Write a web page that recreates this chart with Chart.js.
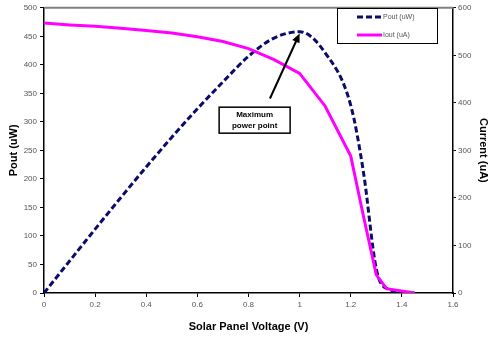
<!DOCTYPE html>
<html>
<head>
<meta charset="utf-8">
<script src="https://cdn.jsdelivr.net/npm/chart.js@4/dist/chart.umd.min.js"></script>
<style>
html,body{margin:0;padding:0;background:#fff;}
#wrap{width:495px;height:340px;position:relative;}
</style>
</head>
<body>
<div id="wrap"><canvas id="c" width="495" height="340"></canvas></div>
<script>
// ---- data ----
const voltage = [0, 0.1, 0.2, 0.3, 0.4, 0.5, 0.6, 0.7, 0.8, 0.9, 1.0, 1.1, 1.2, 1.25, 1.3, 1.34, 1.45];
const poutUW  = [0, 56, 112, 167, 221, 273, 323, 370, 415, 447, 458, 421, 329, 211, 42, 8, 0];
const ioutUA  = [568, 564, 561, 557, 552, 547, 539, 529, 514, 491, 462, 393, 288, 161, 38, 9, 0];
const xTicks = [0, 0.2, 0.4, 0.6, 0.8, 1, 1.2, 1.4, 1.6];
const xTickLabels = ['0', '0.2', '0.4', '0.6', '0.8', '1', '1.2', '1.4', '1.6'];
const seriesLabels = ['Pout (uW)', 'Iout (uA)'];
const annotationLines = ['Maximum', 'power point'];
// annotation anchors in data units (V, uW)
const annBox = {x: 0.824, y: 303};
const annTail = {x: 0.884, y: 341};
const annTip = {x: 1.0, y: 455};

const navy = '#0b0b6b';
const magenta = '#ff00ff';

const decor = {
  id: 'decor',
  afterDatasetsDraw(chart) {
    const ctx = chart.ctx, a = chart.chartArea;
    const xs = chart.scales.x, yl = chart.scales.y;
    ctx.save();
    // top plot border (gray)
    ctx.strokeStyle = '#808080';
    ctx.lineWidth = 2;
    ctx.beginPath(); ctx.moveTo(a.left, a.top); ctx.lineTo(a.right, a.top); ctx.stroke();

    // legend box
    const lx = 337, ly = 8, lw = 100, lh = 35;
    ctx.fillStyle = '#fff';
    ctx.fillRect(lx, ly, lw, lh);
    ctx.strokeStyle = '#000'; ctx.lineWidth = 1;
    ctx.strokeRect(lx + 0.5, ly + 0.5, lw, lh);
    const ds = chart.data.datasets;
    const rows = [17, 35];
    ds.forEach((d, i) => {
      ctx.strokeStyle = d.borderColor; ctx.lineWidth = 3;
      ctx.setLineDash(d.borderDash || []);
      ctx.beginPath(); ctx.moveTo(357, rows[i]); ctx.lineTo(382, rows[i]); ctx.stroke();
      ctx.setLineDash([]);
      ctx.fillStyle = '#555';
      ctx.font = '7px "Liberation Sans", Arial, sans-serif';
      ctx.textAlign = 'left'; ctx.textBaseline = 'middle';
      ctx.fillText(d.label, 383, rows[i] + 0.5);
    });

    // annotation box
    const bx = xs.getPixelForValue(annBox.x), by = yl.getPixelForValue(annBox.y);
    const bw = 71, bh = 26;
    ctx.fillStyle = '#fff';
    ctx.fillRect(bx - bw / 2, by - bh / 2, bw, bh);
    ctx.strokeStyle = '#000'; ctx.lineWidth = 1.5;
    ctx.strokeRect(bx - bw / 2, by - bh / 2, bw, bh);
    ctx.fillStyle = '#000';
    ctx.font = 'bold 8px "Liberation Sans", Arial, sans-serif';
    ctx.textAlign = 'center'; ctx.textBaseline = 'middle';
    ctx.fillText(annotationLines[0], bx, by - 5);
    ctx.fillText(annotationLines[1], bx, by + 6);

    // arrow
    const tx = xs.getPixelForValue(annTail.x), ty = yl.getPixelForValue(annTail.y);
    const hx = xs.getPixelForValue(annTip.x), hy = yl.getPixelForValue(annTip.y);
    const ang = Math.atan2(hy - ty, hx - tx);
    const hl = 9, hw = 4;
    ctx.strokeStyle = '#000'; ctx.lineWidth = 2;
    ctx.beginPath(); ctx.moveTo(tx, ty);
    ctx.lineTo(hx - Math.cos(ang) * hl * 0.8, hy - Math.sin(ang) * hl * 0.8); ctx.stroke();
    ctx.beginPath();
    ctx.moveTo(hx, hy);
    ctx.lineTo(hx - Math.cos(ang) * hl - Math.sin(ang) * hw, hy - Math.sin(ang) * hl + Math.cos(ang) * hw);
    ctx.lineTo(hx - Math.cos(ang) * hl + Math.sin(ang) * hw, hy - Math.sin(ang) * hl - Math.cos(ang) * hw);
    ctx.closePath(); ctx.fillStyle = '#000'; ctx.fill();
    ctx.restore();
  }
};

const tickFont = {family: '"Liberation Sans", Arial, sans-serif', size: 8};
const titleFont = {family: '"Liberation Sans", Arial, sans-serif', size: 11, weight: 'bold'};

new Chart(document.getElementById('c'), {
  type: 'line',
  data: {
    datasets: [
      {
        label: seriesLabels[0],
        data: voltage.map((v, i) => ({x: v, y: poutUW[i]})),
        yAxisID: 'y',
        borderColor: navy,
        borderWidth: 3,
        borderDash: [6, 3],
        cubicInterpolationMode: 'monotone',
        pointRadius: 0,
        fill: false,
        order: 1
      },
      {
        label: seriesLabels[1],
        data: voltage.map((v, i) => ({x: v, y: ioutUA[i]})),
        yAxisID: 'y2',
        borderColor: magenta,
        borderWidth: 3,
        tension: 0,
        pointRadius: 0,
        fill: false,
        order: 0
      }
    ]
  },
  options: {
    responsive: false,
    animation: false,
    events: [],
    layout: {padding: {top: 6, right: 0, left: 0, bottom: 0}},
    plugins: {legend: {display: false}, tooltip: {enabled: false}},
    scales: {
      x: {
        type: 'linear', min: 0, max: 1.6,
        afterBuildTicks: s => { s.ticks = xTicks.map(v => ({value: v})); },
        afterFit: s => { s.height = 47; },
        grid: {drawOnChartArea: false, drawTicks: true, tickLength: 4, tickColor: '#000'},
        border: {display: true, color: '#000', width: 1.5},
        ticks: {
          font: tickFont, color: '#555', padding: 3, maxRotation: 0, autoSkip: false,
          callback: (v, i) => xTickLabels[i]
        },
        title: {display: true, text: 'Solar Panel Voltage (V)', font: titleFont, color: '#000', padding: {top: 0, bottom: 6}}
      },
      y: {
        position: 'left', min: 0, max: 500,
        ticks: {stepSize: 50, font: tickFont, color: '#555', padding: 3},
        afterFit: s => { s.width = 44; },
        grid: {drawOnChartArea: false, drawTicks: true, tickLength: 4, tickColor: '#000'},
        border: {display: true, color: '#000', width: 1.5},
        title: {display: true, text: 'Pout (uW)', font: titleFont, color: '#000', padding: {top: 7, bottom: 0}}
      },
      y2: {
        position: 'right', min: 0, max: 600,
        ticks: {stepSize: 100, font: tickFont, color: '#555', padding: 2},
        afterFit: s => { s.width = 42; },
        grid: {drawOnChartArea: false, drawTicks: true, tickLength: 3, tickColor: '#000'},
        border: {display: true, color: '#000', width: 1.5},
        title: {display: true, text: 'Current (uA)', font: titleFont, color: '#000', padding: {top: 5, bottom: 0}}
      }
    }
  },
  plugins: [decor]
});
</script>
</body>
</html>
